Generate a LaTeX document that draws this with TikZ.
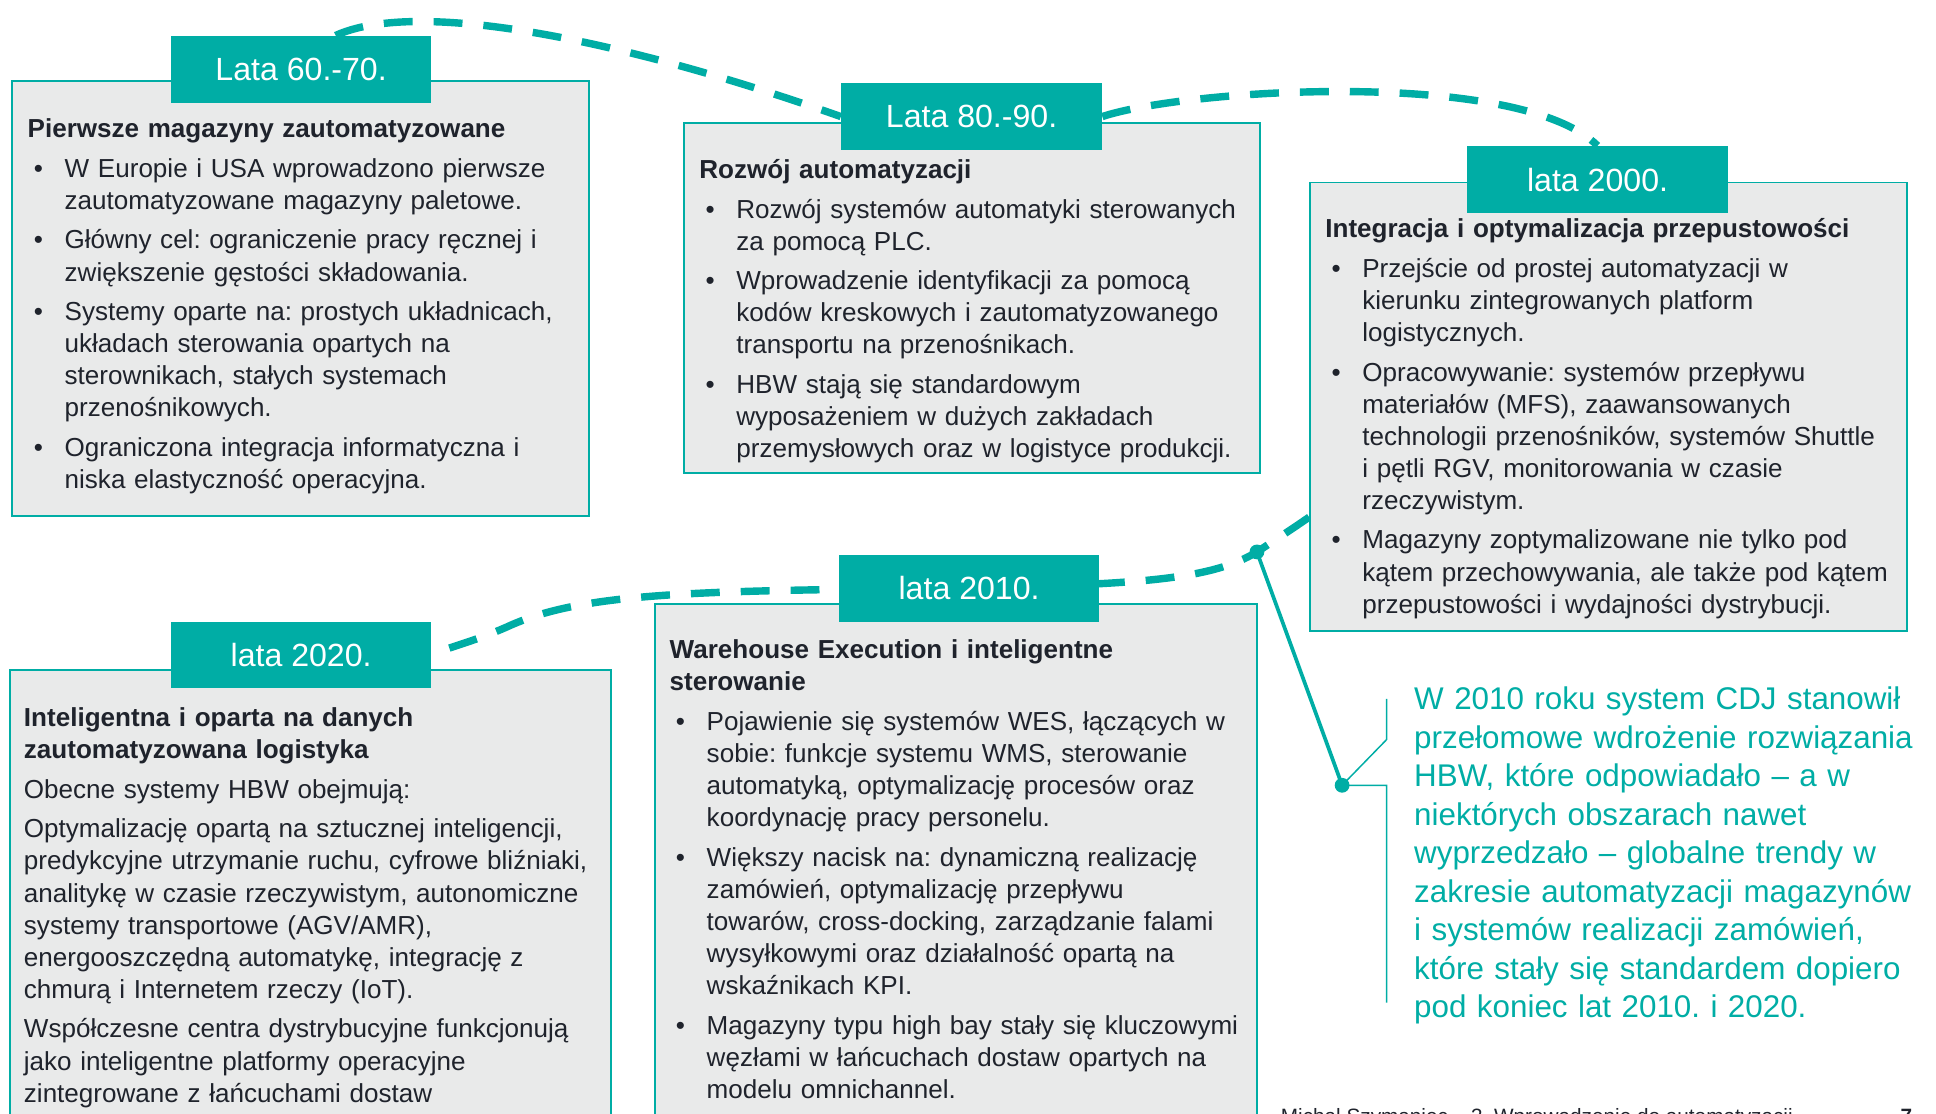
\documentclass[tikz,border=0pt]{standalone}
\usepackage{fontspec}
\setmainfont{Liberation Sans}
\usepackage{tikz}
\usetikzlibrary{
  arrows.meta, positioning, backgrounds, calc
}
\definecolor{accent}{HTML}{00ADA5}
\definecolor{panelgray}{HTML}{E9EAEA}
\definecolor{ink}{HTML}{1F232C}

\frenchspacing
\newcommand{\bodyfont}{\fontsize{10.55pt}{13pt}\selectfont
  \setlength{\parskip}{3pt}\setlength{\parindent}{0pt}}
\newcommand{\calloutfont}{\fontsize{12.7pt}{15.6pt}\selectfont
  \setlength{\parindent}{0pt}}
\newcommand{\bul}[1]{\par\hangindent=15pt\hangafter=1\noindent
  \makebox[15pt][l]{\hspace{2.5pt}\textbullet}#1\par}

\tikzset{
  panel/.style={draw=accent, line width=0.8pt, fill=panelgray,
    anchor=north west, inner sep=0pt},
  tab/.style={fill=accent, text=white, anchor=north west, inner sep=0pt,
    minimum width=105.5pt, minimum height=27pt,
    font=\fontsize{13pt}{15pt}\selectfont},
  blurb/.style={anchor=north west, inner sep=0pt, text=ink,
    font=\bodyfont, align=left},
  timeline/.style={accent, line width=3pt, dash pattern=on 11.7pt off 8.5pt},
  hubdot/.style={circle, fill=accent, inner sep=0pt, minimum size=6pt}
}

\begin{document}
\begin{tikzpicture}[x=0.5pt, y=-0.5pt]
  \useasboundingbox (0,0) rectangle (1568,902);
  \clip (0,0) rectangle (1568,902);

  % panels
  \node[panel, minimum width=233.5pt, minimum height=176pt] (b60) at (9,65) {};
  \node[panel, minimum width=233.5pt, minimum height=141.5pt] (b80) at (553,99) {};
  \node[panel, minimum width=242pt, minimum height=181.5pt] (b2000) at (1060,147) {};
  \node[panel, minimum width=243.5pt, minimum height=200pt] (b2020) at (7,542) {};
  \node[panel, minimum width=243.5pt, minimum height=225pt] (b2010) at (530,488) {};

  % tabs
  \node[tab] (t60) at (138,29) {Lata 60.-70.};
  \node[tab] (t80) at (681,67) {Lata 80.-90.};
  \node[tab] (t2000) at (1188,118) {lata 2000.};
  \node[tab] (t2010) at (679,449) {lata 2010.};
  \node[tab] (t2020) at (138,503) {lata 2020.};

  % panel texts
  \node[blurb, text width=225pt] (x60) at (22,93) {\strut\textbf{Pierwsze magazyny zautomatyzowane}
    \bul{W Europie i USA wprowadzono pierwsze\newline zautomatyzowane magazyny paletowe.}
    \bul{Główny cel: ograniczenie pracy ręcznej i\newline zwiększenie gęstości składowania.}
    \bul{Systemy oparte na: prostych układnicach,\newline układach sterowania opartych na\newline sterownikach, stałych systemach\newline przenośnikowych.}
    \bul{Ograniczona integracja informatyczna i\newline niska elastyczność operacyjna.}};

  \node[blurb, text width=225pt] (x80) at (566,126) {\strut\textbf{Rozwój automatyzacji}
    \bul{Rozwój systemów automatyki sterowanych\newline za pomocą PLC.}
    \bul{Wprowadzenie identyfikacji za pomocą\newline kodów kreskowych i zautomatyzowanego\newline transportu na przenośnikach.}
    \bul{HBW stają się standardowym\newline wyposażeniem w dużych zakładach\newline przemysłowych oraz w logistyce produkcji.}};

  \node[blurb, text width=236pt] (x2000) at (1073,174) {\strut\textbf{Integracja i optymalizacja przepustowości}
    \bul{Przejście od prostej automatyzacji w\newline kierunku zintegrowanych platform\newline logistycznych.}
    \bul{Opracowywanie: systemów przepływu\newline materiałów (MFS), zaawansowanych\newline technologii przenośników, systemów Shuttle\newline i pętli RGV, monitorowania w czasie\newline rzeczywistym.}
    \bul{Magazyny zoptymalizowane nie tylko pod\newline kątem przechowywania, ale także pod kątem\newline przepustowości i wydajności dystrybucji.}};

  \node[blurb, text width=235pt] (x2010) at (542,515) {\strut\textbf{Warehouse Execution i inteligentne\newline sterowanie}
    \bul{Pojawienie się systemów WES, łączących w\newline sobie: funkcje systemu WMS, sterowanie\newline automatyką, optymalizację procesów oraz\newline koordynację pracy personelu.}
    \bul{Większy nacisk na: dynamiczną realizację\newline zamówień, optymalizację przepływu\newline towarów, cross-docking, zarządzanie falami\newline wysyłkowymi oraz działalność opartą na\newline wskaźnikach KPI.}
    \bul{Magazyny typu high bay stały się kluczowymi\newline węzłami w łańcuchach dostaw opartych na\newline modelu omnichannel.}};

  \node[blurb, text width=235pt] (x2020) at (19,570) {\strut\textbf{Inteligentna i oparta na danych\newline zautomatyzowana logistyka}\par
    Obecne systemy HBW obejmują:\par
    Optymalizację opartą na sztucznej inteligencji,\newline predykcyjne utrzymanie ruchu, cyfrowe bliźniaki,\newline analitykę w czasie rzeczywistym, autonomiczne\newline systemy transportowe (AGV/AMR),\newline energooszczędną automatykę, integrację z\newline chmurą i Internetem rzeczy (IoT).\par
    Współczesne centra dystrybucyjne funkcjonują\newline jako inteligentne platformy operacyjne\newline zintegrowane z łańcuchami dostaw\par};

  % callout
  \coordinate (hub) at (1018,447);
  \node[hubdot] (hubpt) at (hub) {};
  \node[hubdot] (pin) at (1087,636) {};
  \draw[accent, line width=1.5pt] (hubpt.center) -- (pin.center);
  \coordinate (brtop) at (1123,566);
  \coordinate (brknee) at (1123,599);
  \coordinate (brfoot) at (1123,812);
  \draw[accent, line width=0.6pt] (brtop) -- (brknee) -- (pin.center)
    -- (pin.center -| brfoot) -- (brfoot);
  \node[anchor=north west, inner sep=0pt, text=accent, font=\calloutfont,
    text width=215pt, align=left] (note) at (1145,552.5)
    {\strut W 2010 roku system CDJ stanowił\newline przełomowe wdrożenie rozwiązania\newline HBW, które odpowiadało – a w\newline niektórych obszarach nawet\newline wyprzedzało – globalne trendy w\newline zakresie automatyzacji magazynów\newline i systemów realizacji zamówień,\newline które stały się standardem dopiero\newline pod koniec lat 2010. i 2020.};

  % footer, cut by the page edge
  \node[anchor=base west, inner sep=0pt, text=ink, font=\fontsize{8.4pt}{10pt}\selectfont]
    (foot) at (1037,910) {Michał Szymaniec – 3. Wprowadzenie do automatyzacji};
  \node[anchor=base west, inner sep=0pt, text=ink, font=\fontsize{8.4pt}{10pt}\selectfont\bfseries]
    (pageno) at (1539,910) {7};

  % dashed timeline behind the tabs
  \begin{pgfonlayer}{background}
    \draw[timeline] (t60.center) .. controls (270,-15) and (470,20) .. (t80.west);
    \draw[timeline] (t80.east) .. controls (960,72) and (1230,55) .. (t2000.north);
    \draw[timeline] (t2000.center) .. controls (1200,330) and (1090,400) .. (hub)
      .. controls (980,470) and (920,473) .. (t2010.center);
    \draw[timeline] (t2010.center) .. controls (560,478) and (470,480) .. (410,508)
      .. controls (380,521) and (360,525) .. (t2020.east);
  \end{pgfonlayer}
\end{tikzpicture}
\end{document}
